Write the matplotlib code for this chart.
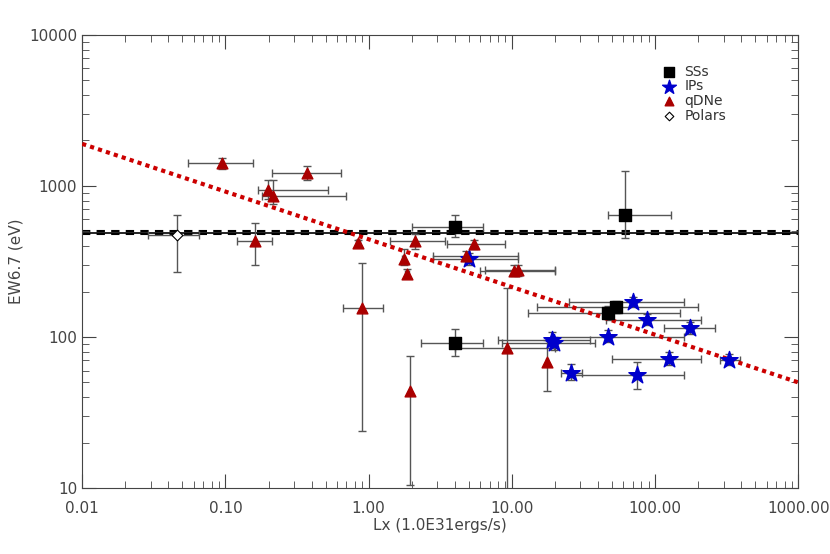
import numpy as np
import matplotlib
matplotlib.use("Agg")
import matplotlib.pyplot as plt
from matplotlib.ticker import NullFormatter, LogLocator

# SSs
ss_x = [4.0, 4.0, 62, 47, 53]
ss_y = [535, 91, 640, 144, 158]
ss_xlo = [2.0, 2.3, 47, 13, 15]
ss_xhi = [6.3, 6.3, 128, 150, 200]
ss_ylo = [460, 75, 450, 132, 145]
ss_yhi = [640, 113, 1250, 160, 172]
# IPs
ip_x = [5.0, 19, 19.6, 26, 47, 70, 88, 176, 75, 124, 330]
ip_y = [330, 96, 91, 58, 100, 170, 130, 115, 56, 71, 70]
ip_xlo = [2.8, 8.0, 8.5, 22, 19, 25, 45, 115, 27, 50, 285]
ip_xhi = [11, 35, 38, 31, 160, 160, 210, 260, 160, 210, 390]
ip_ylo = [300, 88, 82, 52, 92, 160, 120, 105, 45, 65, 65]
ip_yhi = [360, 108, 100, 66, 112, 185, 142, 126, 68, 80, 77]
# qDNe
dn_x = [0.094, 0.197, 0.215, 0.37, 0.16, 0.84, 0.9, 1.75, 1.85, 2.1, 1.95, 5.4, 4.8, 10.3, 11, 9.2, 17.6]
dn_y = [1420, 940, 860, 1220, 430, 420, 155, 330, 260, 430, 44, 410, 345, 275, 278, 85, 68]
dn_xlo = [0.055, 0.17, 0.18, 0.21, 0.12, 0.81, 0.66, 1.7, 1.8, 1.4, 1.93, 3.5, 2.8, 6.0, 6.5, 4.0, 17.4]
dn_xhi = [0.155, 0.52, 0.7, 0.64, 0.21, 0.87, 1.25, 1.8, 1.9, 3.4, 1.97, 9.0, 11, 20, 20, 20, 17.8]
dn_ylo = [1300, 820, 760, 1100, 300, 400, 24, 300, 245, 380, 10.5, 380, 320, 255, 255, 8, 44]
dn_yhi = [1540, 1100, 1100, 1350, 570, 440, 310, 380, 280, 480, 75, 440, 370, 300, 300, 210, 95]
# Polars
pol_x = [0.046]
pol_y = [470]
pol_xlo = [0.029]
pol_xhi = [0.065]
pol_ylo = [270]
pol_yhi = [640]

ref_solid = 490
ref_dash = [478, 502]
fit_x = [0.01, 1000]
fit_y = [1900, 50]

fig = plt.figure(figsize=(8.3, 5.54), dpi=100)
ax = fig.add_axes([0.099, 0.119, 0.863, 0.818])
ax.set_xscale('log'); ax.set_yscale('log')
ax.set_xlim(0.01, 1000); ax.set_ylim(10, 10000)

def eb(x, y, xlo, xhi, ylo, yhi):
    x = np.array(x); y = np.array(y)
    xerr = [x - np.array(xlo), np.array(xhi) - x]
    yerr = [y - np.array(ylo), np.array(yhi) - y]
    ax.errorbar(x, y, xerr=xerr, yerr=yerr, fmt='none', ecolor='#555555',
                elinewidth=1, capsize=3, capthick=1, zorder=2)

for d in [(ss_x, ss_y, ss_xlo, ss_xhi, ss_ylo, ss_yhi), (ip_x, ip_y, ip_xlo, ip_xhi, ip_ylo, ip_yhi),
          (dn_x, dn_y, dn_xlo, dn_xhi, dn_ylo, dn_yhi), (pol_x, pol_y, pol_xlo, pol_xhi, pol_ylo, pol_yhi)]:
    eb(*d)

ax.axhline(ref_solid, color='black', lw=1.2, zorder=1)
for v in ref_dash:
    ax.axhline(v, color='black', lw=1.5, ls=(0, (4, 3)), zorder=1)
ax.plot(fit_x, fit_y, color='#cc0000', lw=3, ls=(0, (1, 1)), zorder=3)

ax.scatter(ss_x, ss_y, marker='s', s=70, color='black', zorder=4, label='SSs')
ax.scatter(ip_x, ip_y, marker='*', s=170, color='#0000cc', zorder=4, label='IPs')
ax.scatter(dn_x, dn_y, marker='^', s=60, color='#aa0000', zorder=4, label='qDNe')
ax.scatter(pol_x, pol_y, marker='D', s=30, facecolor='white', edgecolor='black', lw=0.8, zorder=4, label='Polars')

ax.legend(loc='upper left', bbox_to_anchor=(0.79, 0.95), frameon=False, fontsize=10,
          handletextpad=0.1, labelspacing=0.05, borderpad=0, markerscale=0.8, labelcolor='#333333')

ax.set_xticks([0.01, 0.1, 1, 10, 100, 1000])
ax.set_xticklabels(['0.01', '0.10', '1.00', '10.00', '100.00', '1000.00'])
ax.set_yticks([10, 100, 1000, 10000])
ax.set_yticklabels(['10', '100', '1000', '10000'])
ax.xaxis.set_minor_locator(LogLocator(subs=np.arange(2, 10)))
ax.yaxis.set_minor_locator(LogLocator(subs=np.arange(2, 10)))
ax.xaxis.set_minor_formatter(NullFormatter()); ax.yaxis.set_minor_formatter(NullFormatter())
ax.tick_params(which='both', direction='in', top=True, right=True, colors='#444444', labelsize=11, labelcolor='#444444')
ax.tick_params(which='major', length=10)
ax.tick_params(which='minor', length=5)
ax.tick_params(axis='x', which='major', pad=9)
for s in ax.spines.values():
    s.set_color('#444444')
ax.set_xlabel('Lx (1.0E31ergs/s)', color='#444444', fontsize=11, labelpad=2)
ax.set_ylabel('EW6.7 (eV)', color='#444444', fontsize=11)
fig.savefig('out.png', dpi=100)
